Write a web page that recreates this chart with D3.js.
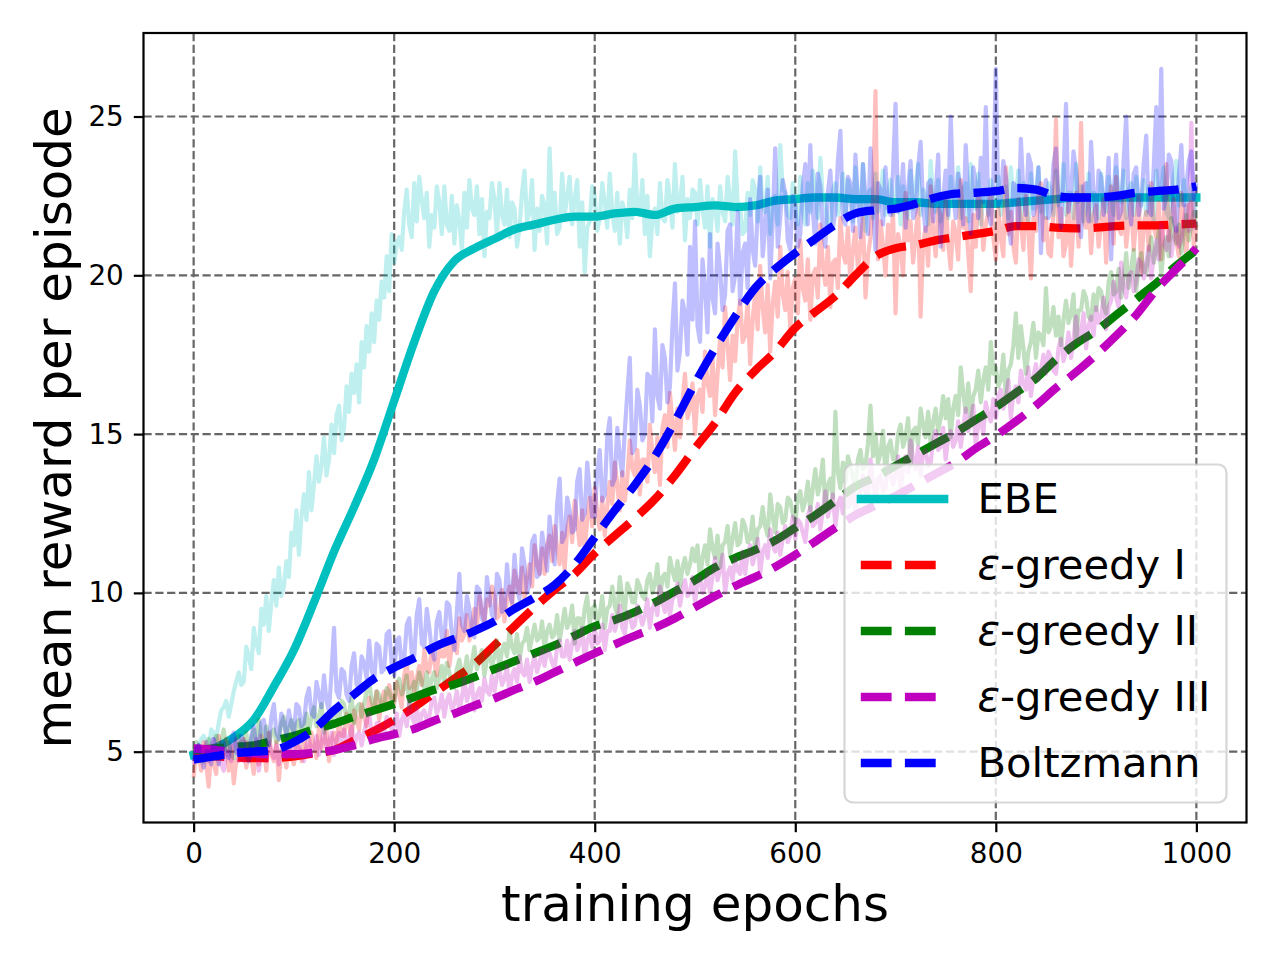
<!DOCTYPE html>
<html>
<head>
<meta charset="utf-8">
<script src="https://cdn.jsdelivr.net/npm/d3@7"></script>
<style>
  body { margin: 0; background: #fff; }
  svg { display: block; }
  text { font-family: "DejaVu Sans", sans-serif; fill: #000; }
</style>
</head>
<body>
<div id="chart"></div>
<script>
// raw mean reward, one value every 2.5 epochs (0 .. 1000)
const rawStep = 2.5;
const ebeRaw = [
  4.9, 5.0, 5.2, 5.4, 5.5, 5.3, 5.1, 5.7, 5.6, 5.4, 5.9, 6.3, 6.4, 6.6, 6.1, 6.5, 6.9, 7.2, 7.5, 7.1,
  7.2, 8.3, 8.0, 7.6, 8.9, 8.4, 8.1, 9.5, 9.0, 9.9, 8.8, 9.7, 10.4, 9.6, 10.8, 9.9, 10.2, 11.0, 10.5, 11.9,
  11.5, 12.6, 11.2, 12.4, 13.1, 12.3, 13.8, 12.6, 13.4, 14.3, 13.5, 14.0, 14.9, 13.7, 14.2, 15.3, 14.4, 15.6, 15.9, 14.8,
  15.2, 16.5, 15.7, 16.9, 16.3, 17.2, 16.0, 17.9, 17.1, 18.4, 17.6, 18.8, 17.9, 19.2, 18.6, 19.8, 19.3, 20.6, 19.5, 21.3,
  20.4, 21.0, 21.2, 20.8, 22.0, 22.7, 21.6, 21.2, 22.9, 21.7, 23.1, 22.4, 21.8, 22.6, 20.9, 21.9, 21.5, 22.8, 22.3, 21.3,
  22.8, 21.6, 21.4, 22.5, 21.0, 22.2, 21.7, 20.8, 22.6, 21.5, 23.0, 22.1, 21.9, 22.8, 21.3, 22.4, 20.6, 22.0, 21.8, 22.9,
  22.4, 21.2, 22.9, 21.9, 21.6, 22.7, 21.2, 22.3, 22.1, 20.9, 21.5, 22.6, 23.3, 21.7, 22.0, 23.0, 20.8, 22.1, 21.4, 22.5,
  22.2, 21.0, 24.0, 21.8, 22.6, 21.3, 21.5, 23.2, 21.9, 22.5, 23.1, 21.6, 22.4, 23.0, 20.9, 22.3, 20.1, 21.5, 21.7, 22.8,
  22.5, 21.4, 21.8, 22.9, 22.3, 21.5, 23.2, 22.0, 21.4, 22.6, 21.0, 22.3, 22.0, 21.2, 22.7, 21.8, 23.8, 22.1, 21.9, 23.0,
  21.3, 22.5, 20.6, 21.7, 22.1, 21.3, 22.9, 21.8, 21.7, 23.0, 22.4, 21.5, 23.5, 22.0, 22.2, 23.1, 21.1, 22.4, 21.8, 22.7,
  22.6, 21.6, 23.0, 22.1, 21.5, 22.8, 20.9, 22.4, 22.2, 21.4, 22.8, 22.0, 21.7, 23.1, 22.4, 21.6, 23.9, 22.3, 22.1, 21.3,
  21.4, 22.6, 21.9, 23.0, 22.7, 21.7, 23.4, 22.2, 22.0, 23.1, 21.3, 22.4, 22.5, 21.6, 24.1, 22.7, 22.6, 21.9, 21.8, 22.9,
  22.3, 21.6, 23.1, 22.0, 21.6, 22.9, 22.0, 23.3, 22.8, 21.8, 23.7, 22.4, 22.2, 21.5, 21.5, 22.7, 22.9, 21.9, 22.4, 23.2,
  21.8, 23.0, 22.6, 21.7, 23.4, 22.3, 22.1, 23.5, 21.4, 22.6, 22.7, 21.8, 23.2, 22.0, 22.5, 23.3, 21.9, 22.6, 23.0, 21.9,
  22.4, 23.1, 21.6, 22.8, 22.2, 21.8, 23.3, 22.1, 22.8, 23.5, 21.9, 22.7, 22.5, 21.6, 23.6, 22.4, 22.0, 23.0, 21.7, 22.5,
  22.6, 21.8, 23.1, 22.2, 22.3, 23.4, 21.8, 22.7, 22.9, 21.7, 23.5, 22.3, 22.1, 23.2, 21.6, 22.5, 22.7, 21.9, 23.0, 22.2,
  22.2, 23.1, 21.9, 22.6, 22.8, 21.8, 23.4, 22.4, 22.5, 23.3, 21.7, 22.9, 22.3, 21.6, 23.2, 22.1, 22.6, 23.4, 22.0, 22.7,
  21.8, 22.9, 22.7, 21.9, 23.3, 22.2, 22.4, 23.5, 21.9, 22.6, 22.6, 21.8, 23.5, 22.3, 22.8, 21.7, 22.1, 23.2, 21.7, 22.6,
  22.5, 21.8, 23.2, 22.3, 22.0, 23.1, 22.6, 21.9, 23.4, 22.5, 22.3, 23.3, 21.8, 22.7, 22.9, 21.9, 23.1, 22.4, 22.2, 23.0,
  21.9, 22.8, 22.4, 21.7, 23.3, 22.5, 22.7, 23.4, 22.0, 21.8, 22.5, 23.1, 23.6, 22.2, 22.3, 23.0, 21.8, 22.6, 22.8, 21.9,
  22.4
];
const greedy1Raw = [
  4.2, 5.0, 4.9, 4.4, 5.3, 4.6, 3.9, 5.1, 4.6, 4.3, 5.5, 4.8, 5.0, 5.4, 4.4, 5.2, 4.0, 4.7, 4.8, 5.3,
  5.4, 4.5, 5.1, 4.8, 4.3, 5.2, 4.6, 5.5, 5.2, 4.4, 5.6, 4.9, 4.7, 5.3, 4.1, 5.0, 4.9, 4.5, 5.3, 4.8,
  4.6, 5.3, 5.1, 4.7, 5.5, 5.0, 4.9, 5.6, 5.2, 4.8, 5.8, 5.1, 5.3, 5.7, 4.7, 5.4, 5.6, 5.2, 6.0, 5.5,
  5.5, 6.2, 5.8, 5.4, 6.3, 6.0, 5.7, 6.5, 6.1, 5.8, 6.7, 6.2, 6.4, 6.9, 6.0, 6.6, 6.9, 6.4, 7.1, 6.7,
  6.5, 7.2, 6.8, 6.4, 7.4, 7.8, 7.0, 7.5, 6.9, 7.3, 7.7, 7.1, 8.2, 7.6, 7.5, 8.3, 7.8, 7.4, 8.4, 8.0,
  8.0, 8.8, 7.7, 8.3, 8.6, 8.1, 9.2, 8.5, 8.7, 9.3, 8.5, 9.0, 9.5, 8.9, 9.9, 9.4, 9.1, 9.8, 9.6, 10.2,
  9.9, 9.2, 9.3, 10.1, 9.1, 9.8, 10.2, 9.6, 10.7, 10.3, 10.0, 10.8, 9.8, 10.5, 10.9, 10.2, 11.5, 10.9, 10.6, 11.4,
  10.6, 11.5, 11.8, 11.0, 12.1, 11.4, 10.9, 11.9, 10.7, 12.0, 12.4, 11.6, 12.9, 12.2, 11.5, 12.6, 11.3, 12.3, 13.0, 12.1,
  13.3, 12.5, 12.0, 13.0, 11.8, 12.7, 13.5, 12.8, 14.1, 13.4, 12.6, 13.8, 12.9, 13.6, 14.8, 13.9, 13.7, 14.5, 13.1, 14.2,
  14.2, 13.5, 15.3, 14.4, 13.8, 14.9, 13.4, 15.2, 15.6, 14.6, 16.3, 15.4, 14.5, 15.8, 14.9, 16.0, 16.9, 15.5, 15.8, 16.6,
  15.0, 16.2, 16.4, 15.7, 17.6, 16.6, 16.2, 17.4, 15.6, 16.9, 18.0, 17.1, 19.0, 17.8, 16.7, 18.1, 17.3, 18.6, 19.2, 17.9,
  18.1, 19.2, 17.2, 18.6, 19.4, 18.3, 20.3, 19.0, 18.2, 19.7, 17.6, 19.1, 19.8, 18.7, 20.9, 19.4, 18.9, 20.1, 18.3, 19.6,
  19.9, 18.8, 21.1, 19.6, 19.2, 20.5, 18.6, 20.0, 20.2, 19.3, 21.6, 20.3, 19.7, 20.9, 19.0, 20.4, 20.5, 19.6, 21.8, 20.7,
  20.4, 21.5, 19.7, 20.8, 21.5, 20.2, 20.9, 21.8, 19.3, 20.6, 21.2, 22.3, 25.8, 20.5, 21.7, 20.9, 20.0, 21.6, 20.8, 22.0,
  18.8, 21.3, 20.9, 20.0, 22.6, 21.1, 21.7, 20.4, 21.2, 22.2, 18.7, 21.0, 21.5, 20.3, 22.8, 21.4, 20.6, 22.1, 21.9, 20.8,
  22.4, 21.0, 20.2, 21.7, 21.3, 20.5, 23.0, 21.5, 21.8, 20.7, 19.5, 21.9, 20.9, 22.5, 22.3, 20.8, 21.6, 22.0, 22.7, 21.2,
  20.5, 22.1, 21.2, 20.6, 23.4, 21.3, 22.0, 20.9, 20.4, 22.4, 21.7, 20.8, 22.5, 21.4, 19.9, 21.8, 21.4, 22.6, 22.9, 21.1,
  21.8, 20.7, 20.6, 22.0, 24.9, 21.2, 22.1, 20.6, 21.0, 22.5, 20.3, 21.6, 22.6, 20.9, 24.8, 21.7, 21.5, 22.3, 20.7, 21.9,
  22.2, 20.9, 21.6, 22.4, 20.4, 21.8, 22.8, 21.0, 23.1, 21.5, 21.3, 22.6, 20.9, 21.7, 22.4, 20.8, 21.7, 22.5, 20.1, 21.6,
  22.0, 20.8, 22.9, 21.5, 21.2, 22.3, 20.5, 21.7, 23.5, 21.1, 21.8, 22.4, 21.1, 20.6, 22.6, 21.4, 20.6, 22.2, 22.3, 20.9,
  21.6
];
const greedy2Raw = [
  4.9, 5.3, 5.2, 4.8, 4.7, 5.2, 5.4, 5.0, 5.1, 5.5, 4.9, 5.3, 5.7, 5.1, 5.3, 4.9, 4.8, 5.4, 5.5, 5.0,
  5.3, 5.6, 4.9, 5.4, 5.7, 5.2, 6.0, 5.5, 5.3, 5.8, 5.2, 5.6, 5.7, 5.3, 5.4, 5.9, 6.1, 5.5, 5.7, 6.0,
  5.4, 5.9, 6.0, 5.5, 5.8, 6.2, 5.6, 6.1, 6.4, 5.8, 6.1, 6.5, 5.6, 6.0, 6.2, 5.9, 6.4, 6.1, 6.0, 6.6,
  6.5, 6.0, 6.2, 6.7, 5.9, 6.4, 6.5, 6.1, 6.5, 6.9, 7.2, 6.6, 6.3, 6.9, 6.8, 6.4, 6.5, 7.0, 6.9, 6.6,
  6.6, 7.1, 7.3, 6.8, 7.0, 7.4, 6.4, 7.0, 7.2, 6.9, 7.5, 7.2, 7.0, 7.5, 6.8, 7.3, 7.5, 7.0, 7.3, 7.7,
  7.2, 7.8, 7.5, 7.1, 7.0, 7.6, 7.9, 7.4, 7.5, 8.0, 7.3, 7.8, 8.3, 7.6, 7.9, 8.2, 7.4, 7.9, 8.1, 7.7,
  8.0, 8.5, 7.6, 8.2, 8.4, 8.0, 8.8, 8.3, 8.1, 8.7, 7.9, 8.4, 8.5, 8.9, 8.2, 8.6, 9.0, 8.5, 8.6, 9.1,
  8.2, 8.8, 9.0, 8.6, 8.7, 9.3, 8.5, 9.0, 9.5, 8.9, 9.1, 9.6, 8.4, 9.2, 9.2, 8.8, 9.5, 9.9, 9.0, 9.5,
  9.6, 9.1, 9.3, 9.9, 8.9, 9.5, 9.6, 10.2, 9.6, 9.3, 10.5, 9.8, 9.4, 10.3, 10.1, 9.7, 9.7, 10.4, 10.2, 9.9,
  9.8, 10.4, 10.6, 10.0, 10.3, 10.9, 9.7, 10.5, 10.6, 10.2, 11.1, 10.7, 10.4, 11.0, 10.2, 10.8, 11.1, 10.6, 10.9, 11.4,
  11.0, 11.5, 10.4, 11.1, 11.5, 10.9, 12.0, 11.4, 11.1, 11.8, 10.8, 11.5, 11.6, 12.1, 11.2, 11.7, 12.2, 11.5, 11.6, 12.3,
  12.1, 11.6, 11.7, 12.4, 11.3, 12.0, 12.1, 12.7, 12.1, 11.8, 13.1, 12.4, 11.9, 12.8, 12.7, 12.2, 12.3, 13.0, 12.9, 12.5,
  12.2, 13.0, 13.2, 12.6, 12.9, 13.5, 12.6, 13.3, 13.9, 13.1, 13.5, 14.2, 12.6, 13.4, 13.6, 13.0, 15.7, 13.8, 13.3, 14.1,
  13.5, 14.3, 14.0, 13.6, 13.3, 14.2, 14.5, 13.9, 14.0, 14.7, 15.9, 14.3, 15.0, 14.1, 14.4, 15.1, 13.7, 14.6, 14.8, 14.2,
  14.2, 15.0, 15.3, 14.6, 14.9, 15.5, 14.0, 15.1, 15.2, 14.7, 15.8, 15.3, 14.9, 15.7, 14.7, 15.4, 15.8, 15.1, 15.5, 16.2,
  15.5, 16.1, 14.9, 15.8, 16.2, 15.6, 17.1, 16.3, 15.7, 16.6, 15.5, 16.2, 16.4, 17.0, 16.0, 16.7, 17.1, 16.4, 17.9, 16.9,
  17.1, 16.5, 16.7, 17.5, 16.2, 17.0, 17.2, 17.8, 18.8, 17.4, 18.4, 17.7, 16.9, 17.6, 17.9, 18.5, 17.4, 18.2, 18.1, 17.8,
  19.6, 18.2, 18.4, 19.0, 18.1, 18.7, 17.8, 18.6, 19.2, 18.5, 18.8, 19.4, 17.8, 18.9, 18.9, 19.5, 19.3, 18.7, 18.6, 19.4,
  18.9, 19.6, 19.5, 19.0, 18.8, 19.8, 20.1, 19.4, 19.5, 20.2, 19.3, 19.9, 20.7, 19.6, 20.2, 20.8, 19.5, 20.3, 20.7, 20.1,
  20.1, 20.7, 21.2, 20.4, 20.8, 21.4, 20.0, 20.9, 21.2, 20.6, 21.8, 21.2, 21.0, 21.6, 20.7, 21.3, 21.9, 21.1, 21.6, 22.0,
  21.5
];
const greedy3Raw = [
  4.6, 5.1, 5.2, 4.8, 4.9, 5.3, 4.7, 5.2, 5.4, 4.9, 5.1, 4.6, 4.4, 5.0, 5.0, 4.7, 5.2, 5.4, 4.7, 5.1,
  4.7, 5.3, 5.2, 4.8, 5.0, 5.4, 4.4, 4.9, 5.0, 4.7, 5.3, 5.0, 4.8, 5.2, 4.6, 5.1, 5.2, 4.8, 5.0, 5.3,
  4.8, 5.3, 5.2, 4.9, 4.7, 5.2, 5.4, 5.0, 5.1, 5.5, 4.9, 5.3, 5.7, 5.1, 5.3, 5.6, 4.9, 5.4, 5.6, 5.2,
  5.7, 5.3, 5.4, 5.8, 5.1, 5.5, 5.6, 5.2, 5.6, 6.0, 6.2, 5.6, 5.4, 5.9, 5.9, 5.5, 5.6, 6.1, 5.9, 5.7,
  5.8, 6.2, 5.5, 6.0, 6.2, 5.8, 6.6, 6.1, 5.9, 6.4, 5.8, 6.2, 6.3, 6.0, 6.1, 6.6, 6.7, 6.2, 6.4, 6.8,
  6.1, 6.6, 6.8, 6.3, 6.5, 6.9, 6.3, 6.7, 7.3, 6.6, 6.9, 7.2, 6.3, 6.8, 7.0, 6.6, 7.3, 6.9, 6.8, 7.4,
  6.9, 7.4, 7.6, 7.1, 7.3, 7.7, 6.8, 7.4, 7.6, 7.2, 8.0, 7.5, 7.4, 7.9, 7.2, 7.7, 8.0, 7.5, 7.8, 8.2,
  7.7, 8.2, 8.1, 7.8, 7.6, 8.3, 8.5, 8.0, 8.0, 8.5, 7.9, 8.4, 8.8, 8.2, 8.4, 8.9, 7.9, 8.5, 8.7, 8.3,
  8.9, 8.4, 8.5, 9.0, 8.2, 8.8, 8.8, 9.3, 8.8, 9.1, 9.6, 8.9, 8.7, 9.4, 9.3, 8.9, 9.0, 9.6, 9.3, 9.0,
  9.3, 9.8, 8.9, 9.5, 9.7, 9.3, 10.2, 9.7, 9.4, 10.0, 9.3, 9.8, 9.9, 10.3, 9.6, 10.1, 10.4, 9.9, 10.0, 10.5,
  9.7, 10.3, 10.5, 10.0, 10.2, 10.7, 10.0, 10.5, 11.1, 10.4, 10.7, 11.2, 10.0, 10.6, 10.8, 10.4, 11.1, 10.7, 10.6, 11.3,
  10.6, 11.2, 11.5, 10.9, 11.2, 11.7, 10.6, 11.3, 11.5, 11.1, 12.0, 11.5, 11.3, 11.9, 11.2, 11.7, 12.1, 11.6, 11.8, 12.4,
  11.7, 12.3, 12.2, 11.9, 11.6, 12.4, 12.7, 12.1, 12.2, 12.8, 12.0, 12.6, 13.2, 12.4, 12.7, 13.1, 12.1, 12.8, 13.0, 12.5,
  13.2, 12.7, 12.8, 13.4, 12.4, 13.0, 13.2, 13.7, 13.2, 12.9, 14.2, 13.5, 12.9, 13.6, 13.7, 13.2, 13.3, 14.0, 13.8, 13.4,
  13.7, 14.3, 13.2, 13.9, 14.3, 13.8, 14.8, 14.2, 13.9, 14.6, 13.7, 14.4, 14.5, 14.0, 14.1, 14.8, 15.1, 14.5, 14.6, 15.2,
  14.2, 14.9, 15.1, 14.6, 14.8, 15.4, 14.6, 15.2, 15.8, 15.1, 15.4, 15.9, 14.6, 15.3, 15.5, 15.0, 16.0, 15.6, 15.4, 16.1,
  15.5, 16.2, 16.4, 15.8, 16.1, 16.7, 15.5, 16.3, 16.5, 16.0, 17.0, 16.6, 16.4, 17.1, 16.2, 16.8, 17.2, 16.7, 17.0, 17.5,
  16.9, 17.6, 17.4, 17.0, 16.9, 17.7, 18.0, 17.3, 17.6, 18.2, 17.4, 18.0, 18.7, 17.9, 18.2, 18.8, 17.7, 18.4, 18.7, 18.1,
  19.0, 18.5, 18.7, 19.3, 18.3, 19.0, 19.2, 19.8, 19.3, 19.0, 20.4, 19.6, 19.3, 20.0, 20.1, 19.5, 19.8, 20.5, 20.4, 19.9,
  20.4, 20.9, 19.9, 20.6, 21.1, 20.5, 21.6, 21.0, 20.8, 21.4, 20.6, 21.2, 21.5, 20.9, 21.1, 21.7, 22.2, 21.4, 24.8, 21.5,
  21.7
];
const boltzRaw = [
  4.7, 5.1, 5.2, 4.8, 4.5, 5.0, 5.0, 4.6, 5.4, 5.1, 4.6, 5.3, 5.3, 4.9, 4.8, 5.4, 5.6, 5.0, 4.9, 5.5,
  5.3, 4.9, 4.7, 5.5, 5.8, 5.2, 5.1, 5.9, 6.0, 5.4, 5.2, 6.1, 6.5, 5.6, 5.4, 6.2, 5.9, 5.5, 6.3, 5.8,
  5.6, 6.5, 6.4, 5.8, 5.9, 6.7, 7.0, 6.2, 6.1, 7.2, 6.8, 6.4, 7.4, 6.6, 6.3, 7.5, 8.9, 6.9, 6.7, 7.6,
  7.5, 6.8, 6.6, 7.7, 8.1, 7.1, 7.0, 8.0, 7.8, 7.3, 8.5, 7.6, 7.2, 8.4, 8.3, 7.5, 7.6, 8.7, 8.8, 7.8,
  7.4, 8.5, 8.6, 7.7, 7.9, 9.0, 9.2, 8.1, 8.0, 9.3, 9.8, 8.4, 8.3, 9.5, 8.9, 8.2, 7.9, 9.1, 9.4, 8.6,
  8.5, 9.7, 9.6, 8.7, 8.2, 9.4, 10.6, 9.0, 8.8, 9.9, 9.5, 8.9, 8.6, 10.2, 10.1, 9.2, 9.0, 10.5, 9.9, 9.3,
  9.2, 10.6, 10.4, 9.4, 9.5, 10.9, 10.0, 9.7, 11.2, 10.1, 9.8, 11.4, 10.9, 10.0, 10.3, 11.6, 11.8, 10.5, 10.6, 11.9,
  11.3, 10.7, 12.4, 11.5, 10.9, 12.8, 13.6, 11.6, 11.8, 13.0, 12.6, 11.9, 12.0, 13.5, 13.9, 12.3, 12.5, 14.1, 13.2, 12.4,
  12.4, 13.8, 14.5, 12.9, 13.1, 14.9, 15.5, 13.4, 13.6, 15.2, 14.3, 13.7, 15.1, 16.3, 17.4, 14.4, 14.6, 16.4, 15.9, 14.8,
  15.0, 16.9, 16.8, 15.4, 18.3, 16.2, 15.8, 17.8, 17.4, 16.0, 16.5, 18.4, 19.75, 17.0, 17.6, 19.2, 18.8, 17.5, 20.9, 18.6,
  21.7, 18.4, 17.9, 20.5, 19.6, 18.2, 21.3, 19.3, 18.8, 21.0, 20.2, 18.9, 19.4, 21.4, 21.6, 19.5, 20.0, 22.0, 19.1, 20.7,
  21.0, 19.6, 22.4, 20.8, 20.3, 22.0, 23.1, 20.6, 21.5, 22.7, 19.9, 21.7, 24.0, 20.9, 21.8, 23.0, 22.6, 21.1, 20.8, 22.5,
  22.2, 20.9, 21.3, 22.8, 23.5, 21.6, 24.1, 22.0, 21.0, 23.2, 22.8, 21.4, 20.9, 22.6, 23.3, 21.5, 22.0, 23.6, 24.55, 21.8,
  21.6, 23.1, 22.9, 21.4, 23.8, 22.3, 21.2, 23.5, 22.5, 21.3, 24.0, 22.2, 20.8, 22.9, 22.7, 21.6, 23.4, 22.1, 21.9, 23.3,
  25.4, 22.0, 22.3, 23.5, 21.5, 22.7, 23.6, 21.8, 22.0, 23.4, 24.2, 22.1, 21.4, 22.9, 23.0, 21.7, 22.6, 23.8, 20.9, 22.4,
  23.3, 21.9, 25.0, 22.6, 21.8, 23.2, 22.7, 21.6, 24.1, 22.5, 21.3, 23.4, 22.9, 21.8, 23.7, 22.3, 25.3, 22.0, 21.6, 23.0,
  26.5, 22.2, 22.4, 23.6, 23.1, 21.7, 21.0, 22.9, 22.8, 21.5, 24.3, 22.6, 21.9, 23.8, 23.5, 21.9, 22.2, 23.4, 20.7, 22.5,
  23.0, 21.8, 22.1, 23.5, 24.0, 22.4, 21.5, 23.1, 25.4, 22.0, 22.6, 23.9, 23.3, 21.6, 21.2, 22.8, 22.9, 21.7, 24.2, 22.6,
  21.7, 23.3, 23.1, 21.9, 22.4, 23.7, 20.5, 22.5, 23.8, 21.8, 22.0, 23.6, 25.0, 22.3, 21.6, 23.2, 23.4, 21.9, 22.3, 23.5,
  24.4, 22.0, 21.9, 23.4, 25.3, 22.6, 26.5, 22.1, 22.5, 23.8, 23.6, 21.7, 21.4, 23.1, 24.1, 22.2, 22.8, 23.6, 23.9, 22.4,
  22.9
];

// smoothed curves, one value every 20 epochs (0 .. 1000)
const smoothStep = 20;
const ebeSmooth = [
  4.9, 5.1, 5.45, 6.0, 7.05, 8.2, 9.7, 11.3, 12.7, 14.2,
  16.05, 17.9, 19.5, 20.45, 20.85, 21.15, 21.45, 21.6, 21.75, 21.85,
  21.85, 21.95, 22.0, 21.9, 22.1, 22.15, 22.2, 22.15, 22.2, 22.35,
  22.4, 22.45, 22.45, 22.4, 22.4, 22.3, 22.3, 22.25, 22.25, 22.25,
  22.25, 22.3, 22.35, 22.4, 22.45, 22.45, 22.45, 22.45, 22.45, 22.45, 22.45
];
const greedy1Smooth = [
  4.85, 4.85, 4.82, 4.8, 4.8, 4.85, 4.95, 5.05, 5.35, 5.65,
  6.0, 6.4, 6.85, 7.3, 7.75, 8.35, 8.95, 9.55, 10.1, 10.6,
  11.25, 11.8, 12.35, 12.95, 13.7, 14.55, 15.35, 16.3, 17.0, 17.6,
  18.35, 18.85, 19.35, 20.0, 20.6, 20.85, 20.95, 21.1, 21.2, 21.3,
  21.4, 21.55, 21.55, 21.5, 21.48, 21.5, 21.55, 21.57, 21.57, 21.6, 21.63
];
const greedy2Smooth = [
  5.05, 5.1, 5.15, 5.2, 5.35, 5.5, 5.7, 5.88, 6.1, 6.3,
  6.5, 6.72, 6.95, 7.12, 7.35, 7.6, 7.85, 8.1, 8.35, 8.65,
  8.95, 9.15, 9.4, 9.7, 10.05, 10.4, 10.8, 11.1, 11.35, 11.65,
  12.05, 12.45, 12.9, 13.35, 13.65, 14.0, 14.35, 14.7, 15.05, 15.45,
  15.85, 16.3, 16.75, 17.35, 17.85, 18.25, 18.75, 19.25, 19.75, 20.3, 20.8
];
const greedy3Smooth = [
  5.1, 5.06, 5.0, 4.95, 4.92, 4.92, 4.97, 5.05, 5.2, 5.4,
  5.55, 5.72, 5.98, 6.2, 6.45, 6.68, 6.95, 7.2, 7.5, 7.8,
  8.1, 8.38, 8.65, 8.9, 9.2, 9.55, 9.9, 10.22, 10.5, 10.82,
  11.2, 11.62, 12.05, 12.45, 12.75, 13.05, 13.4, 13.75, 14.1, 14.55,
  14.95, 15.4, 15.9, 16.45, 16.95, 17.5, 18.1, 18.75, 19.55, 20.2, 20.85
];
const boltzSmooth = [
  4.75, 4.85, 4.95, 5.0, 5.05, 5.3, 5.7, 6.3, 6.8, 7.3,
  7.65, 7.95, 8.3, 8.55, 8.8, 9.1, 9.5, 9.85, 10.25, 10.9,
  11.75, 12.6, 13.4, 14.3, 15.4, 16.6, 17.7, 18.7, 19.6, 20.2,
  20.7, 21.15, 21.6, 21.95, 22.05, 22.1, 22.25, 22.45, 22.57, 22.6,
  22.65, 22.75, 22.7, 22.5, 22.45, 22.45, 22.5, 22.6, 22.65, 22.7, 22.8
];

const seriesNames = ["EBE", "ε-greedy I", "ε-greedy II", "ε-greedy III", "Boltzmann"];
const seriesColors = ["#00bfbf", "#ff0000", "#008000", "#bf00bf", "#0000ff"];
const rawSeries = [ebeRaw, greedy1Raw, greedy2Raw, greedy3Raw, boltzRaw];
const smoothSeries = [ebeSmooth, greedy1Smooth, greedy2Smooth, greedy3Smooth, boltzSmooth];
const xTicks = [0, 200, 400, 600, 800, 1000];
const yTicks = [5, 10, 15, 20, 25];

// figure layout (matplotlib-like, 200 dpi)
const W = 1280, H = 960;
const margin = {top: 33, right: 33.5, bottom: 137.5, left: 143.5},
    width = W - margin.left - margin.right,
    height = H - margin.top - margin.bottom;

const svg = d3.select("#chart")
    .append("svg")
    .attr("width", W)
    .attr("height", H);

const g = svg.append("g")
    .attr("transform", "translate(" + margin.left + "," + margin.top + ")");

const x = d3.scaleLinear()
    .domain([-50, 1050])
    .range([0, width]);
const y = d3.scaleLinear()
    .domain([2.77, 27.63])
    .range([height, 0]);

// grid
const grid = g.append("g").attr("class", "grid");
grid.selectAll("line.vx")
    .data(xTicks)
    .enter().append("line")
    .attr("x1", d => x(d)).attr("x2", d => x(d))
    .attr("y1", 0).attr("y2", height);
grid.selectAll("line.hy")
    .data(yTicks)
    .enter().append("line")
    .attr("x1", 0).attr("x2", width)
    .attr("y1", d => y(d)).attr("y2", d => y(d));
grid.selectAll("line")
    .attr("stroke", "#666")
    .attr("stroke-width", 2.2)
    .attr("stroke-dasharray", "8.2,3.6");

g.append("clipPath").attr("id", "plotclip")
  .append("rect").attr("width", width).attr("height", height);

const plot = g.append("g").attr("clip-path", "url(#plotclip)");

const rawLine = d3.line()
    .x((d, i) => x(i * rawStep))
    .y(d => y(d));
const smoothLine = d3.line()
    .x((d, i) => x(i * smoothStep))
    .y(d => y(d))
    .curve(d3.curveMonotoneX);

// raw trace then its smoothed curve, one method after the other
seriesNames.forEach(function(name, k) {
  plot.append("path")
      .datum(rawSeries[k])
      .attr("fill", "none")
      .attr("stroke", seriesColors[k])
      .attr("stroke-opacity", 0.25)
      .attr("stroke-width", 4.2)
      .attr("stroke-linejoin", "round")
      .attr("d", rawLine);

  const p = plot.append("path")
      .datum(smoothSeries[k])
      .attr("fill", "none")
      .attr("stroke", seriesColors[k])
      .attr("stroke-width", 8.3)
      .attr("stroke-linejoin", "round")
      .attr("d", smoothLine);
  if (k === 0) {
    p.attr("stroke-linecap", "square");
  } else {
    p.attr("stroke-dasharray", "30.8,13.3").attr("stroke-linecap", "butt");
  }
});

// axes
const xAxis = g.append("g")
    .attr("transform", "translate(0," + height + ")")
    .call(d3.axisBottom(x).tickValues(xTicks).tickFormat(d3.format("d"))
        .tickSize(9.7).tickSizeOuter(0).tickPadding(11));
const yAxis = g.append("g")
    .call(d3.axisLeft(y).tickValues(yTicks).tickFormat(d3.format("d"))
        .tickSize(9.7).tickSizeOuter(0).tickPadding(10));
[xAxis, yAxis].forEach(function(a) {
  a.select(".domain").remove();
  a.selectAll(".tick line").attr("stroke", "#000").attr("stroke-width", 2.2);
  a.selectAll(".tick text")
      .attr("fill", "#000")
      .style("font-family", "'DejaVu Sans', sans-serif")
      .style("font-size", "27.8px");
});

// frame
g.append("rect")
    .attr("width", width)
    .attr("height", height)
    .attr("fill", "none")
    .attr("stroke", "#000")
    .attr("stroke-width", 2.2);

// axis labels
svg.append("text")
    .attr("x", margin.left + width / 2)
    .attr("y", 921)
    .attr("text-anchor", "middle")
    .style("font-size", "50px")
    .text("training epochs");
svg.append("text")
    .attr("transform", "translate(71," + (margin.top + height / 2) + ") rotate(-90)")
    .attr("text-anchor", "middle")
    .style("font-size", "50px")
    .text("mean reward per episode");

// legend
const legend = svg.append("g")
    .attr("transform", "translate(844.5,464.5)");
legend.append("rect")
    .attr("width", 382)
    .attr("height", 338)
    .attr("rx", 8.3).attr("ry", 8.3)
    .attr("fill", "#fff")
    .attr("fill-opacity", 0.8)
    .attr("stroke", "#ccc")
    .attr("stroke-opacity", 0.8)
    .attr("stroke-width", 2.2);

const rows = legend.selectAll("g.entry")
    .data(seriesNames)
    .enter().append("g")
    .attr("class", "entry")
    .attr("transform", (d, i) => "translate(0," + (34.5 + i * 66) + ")");

rows.append("line")
    .attr("x1", 16.3).attr("x2", 99.7)
    .attr("y1", 0).attr("y2", 0)
    .attr("stroke", (d, i) => seriesColors[i])
    .attr("stroke-width", 8.3)
    .attr("stroke-linecap", (d, i) => i === 0 ? "square" : "butt")
    .attr("stroke-dasharray", (d, i) => i === 0 ? null : "30.8,13.3");

rows.append("text")
    .attr("x", 133)
    .attr("y", 14)
    .style("font-size", "41.7px")
    .each(function(d) {
      const t = d3.select(this);
      if (d.charAt(0) === "ε") {
        t.append("tspan").style("font-style", "italic").text("ε");
        t.append("tspan").text(d.slice(1));
      } else {
        t.text(d);
      }
    });
</script>
</body>
</html>
